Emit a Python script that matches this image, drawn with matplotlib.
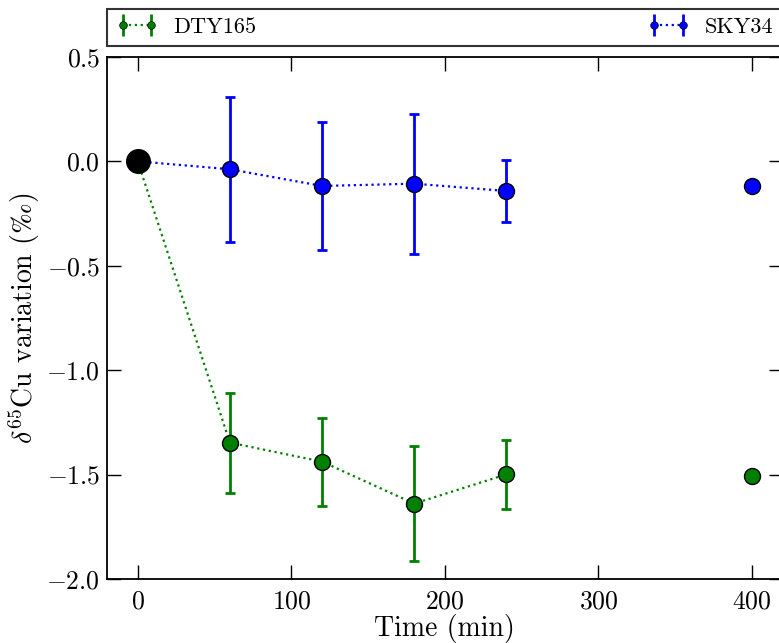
import numpy as np
import matplotlib
matplotlib.use('Agg')
import matplotlib.pyplot as plt

plt.rcParams['font.family'] = ['cmr10', 'DejaVu Serif']
plt.rcParams['mathtext.fontset'] = 'cm'
plt.rcParams['axes.formatter.use_mathtext'] = True
plt.rcParams['axes.unicode_minus'] = True

# time series (min) and delta65Cu variation (permil)
time = [0, 60, 120, 180, 240]
dty_val = [0.0, -1.347, -1.438, -1.639, -1.499]
dty_err = [0.0, 0.24, 0.21, 0.275, 0.166]
sky_val = [0.0, -0.038, -0.118, -0.107, -0.142]
sky_err = [0.0, 0.347, 0.306, 0.336, 0.15]

# end point (no error bar)
time_end = [400]
dty_end = [-1.505]
sky_end = [-0.12]

fig = plt.figure(figsize=(7.79, 6.43), dpi=100)
ax = fig.add_axes([0.1374, 0.0995, 0.8674, 0.812])

ax.errorbar(time[1:], dty_val[1:], yerr=dty_err[1:], fmt='o', color='green', ecolor='green',
            mec='black', ms=11.5, elinewidth=2, capsize=3.5, capthick=2, zorder=3)
ax.plot(time, dty_val, ':', color='green', lw=1.6, zorder=2)
ax.errorbar(time[1:], sky_val[1:], yerr=sky_err[1:], fmt='o', color='blue', ecolor='blue',
            mec='black', ms=11.5, elinewidth=2, capsize=3.5, capthick=2, zorder=3)
ax.plot(time, sky_val, ':', color='blue', lw=1.6, zorder=2)
ax.plot(time_end, dty_end, 'o', color='green', mec='black', ms=11.5, zorder=3)
ax.plot(time_end, sky_end, 'o', color='blue', mec='black', ms=11.5, zorder=3)
ax.plot([time[0]], [dty_val[0]], 'o', color='black', ms=17, zorder=4)

# legend handles
h1 = ax.errorbar([], [], yerr=[], fmt='o:', color='green', ms=5.5, mec='black', mew=0.5,
                 elinewidth=2, capsize=3.5, capthick=2, lw=1.6, label='DTY165')
h2 = ax.errorbar([], [], yerr=[], fmt='o:', color='blue', ms=5.5, mec='black', mew=0.5,
                 elinewidth=2, capsize=3.5, capthick=2, lw=1.6, label='SKY34')
leg = ax.legend(handles=[h1, h2], loc='lower left', bbox_to_anchor=(0, 1.021, 1, 0.069),
                mode='expand', ncol=2, borderaxespad=0, fancybox=False, fontsize=16,
                handlelength=1.9, handletextpad=0.7, numpoints=2)
leg.get_frame().set_edgecolor('black')
leg.get_frame().set_linewidth(1.5)

ax.set_xlim(-20, 420)
ax.set_ylim(-2.0, 0.5)
ax.set_xticks([0, 100, 200, 300, 400])
ax.set_yticks([-2.0, -1.5, -1.0, -0.5, 0.0, 0.5])
ax.tick_params(direction='in', length=10, width=1, top=True, right=True, labelsize=18.5)
ax.tick_params(axis='y', pad=5)
ax.tick_params(axis='x', pad=8)
for s in ax.spines.values():
    s.set_linewidth(1.3)

ax.set_xlabel('Time (min)', fontsize=20, labelpad=0)
ax.set_ylabel(r'$\delta^{65}$Cu variation ($\mathit{‰}$)', fontsize=20, labelpad=3)

fig.savefig('out.png', dpi=100)
